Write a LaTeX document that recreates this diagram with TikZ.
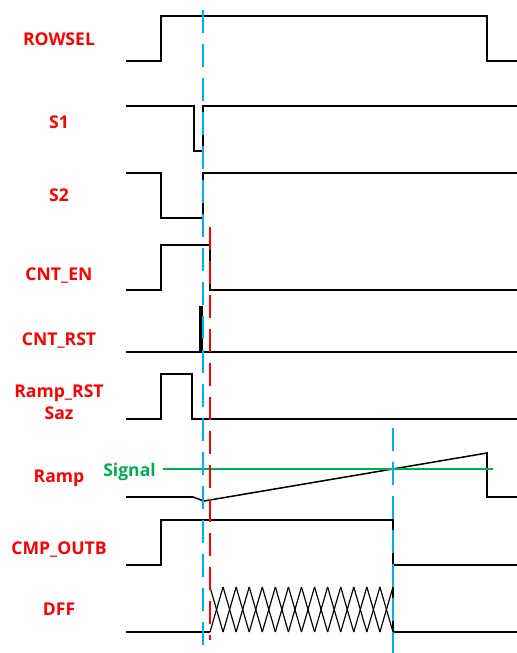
\documentclass[tikz,border=0pt]{standalone}
\usepackage{fontspec}
\setsansfont{Open Sans}
\definecolor{sigred}{RGB}{255,0,0}
\definecolor{sigblue}{RGB}{0,176,240}
\definecolor{siggreen}{RGB}{0,176,80}

\begin{document}
\begin{tikzpicture}[x=0.03cm,y=-0.03cm,
    wave/.style={line width=1.3pt,line join=miter},
    mark blue/.style={sigblue,line width=1.3pt,dash pattern=on 20pt off 9pt},
    mark red/.style={sigred,line width=1.3pt,dash pattern=on 20pt off 9pt},
    sig name/.style={text=sigred,font=\sffamily\bfseries\fontsize{15}{18}\selectfont,anchor=base}]
      \useasboundingbox (0,0) rectangle (517,653);
      % signal names
      \node[sig name] (rowsel) at (59,46) {ROWSEL};
      \node[sig name] (s1) at (59,129) {S1};
      \node[sig name] (s2) at (59,202) {S2};
      \node[sig name] (cnten) at (59,280) {CNT\_EN};
      \node[sig name] (cntrst) at (59,345) {CNT\_RST};
      \node[sig name] (ramprst) at (59,397) {Ramp\_RST};
      \node[sig name] (saz) at (59,419) {Saz};
      \node[sig name] (ramp) at (59,482) {Ramp};
      \node[sig name] (cmpoutb) at (59,554) {CMP\_OUTB};
      \node[sig name] (dff) at (59,615) {DFF};
      % waveforms
      \draw[wave] (126,61)--(161,61)--(161,16)--(487,16)--(487,61)--(517,61);
      \draw[wave] (126,106)--(194,106)--(194,151)--(203,151)--(203,106)--(517,106);
      \draw[wave] (126,173)--(161,173)--(161,218)--(203,218)--(203,173)--(517,173);
      \draw[wave] (126,290)--(161,290)--(161,245)--(210,245)--(210,290)--(517,290);
      \draw[wave] (126,352)--(200,352)--(200,307)--(202,307)--(202,352)--(517,352);
      \draw[wave] (126,419)--(161,419)--(161,374)--(192,374)--(192,419)--(517,419);
      \draw[wave] (126,497)--(193,497)--(204,501)--(487,453)--(487,497)--(517,497);
      \draw[wave] (126,565)--(161,565)--(161,520)--(393,520)--(393,565)--(517,565);
      \draw[wave] (126,632)--(210,632);
      \foreach \i in {0,...,13}{
        \draw[wave,line width=1pt] ({210+\i*13.07},587)--({210+(\i+1)*13.07},632);
        \draw[wave,line width=1pt] ({210+\i*13.07},632)--({210+(\i+1)*13.07},587);
      }
      \draw[wave] (393,587)--(393,632)--(517,632);
      % comparator threshold
      \draw[siggreen,line width=1.3pt] (163,469)--(493,469);
      \node[text=siggreen,font=\sffamily\bfseries\fontsize{15}{18}\selectfont,anchor=base east,inner xsep=0pt] (signal) at (156,476) {Signal};
      % time markers
      \draw[mark blue] (203,10)--(203,653);
      \draw[mark red] (210,227)--(210,640);
      \draw[mark blue] (393,428)--(393,653);
\end{tikzpicture}
\end{document}
